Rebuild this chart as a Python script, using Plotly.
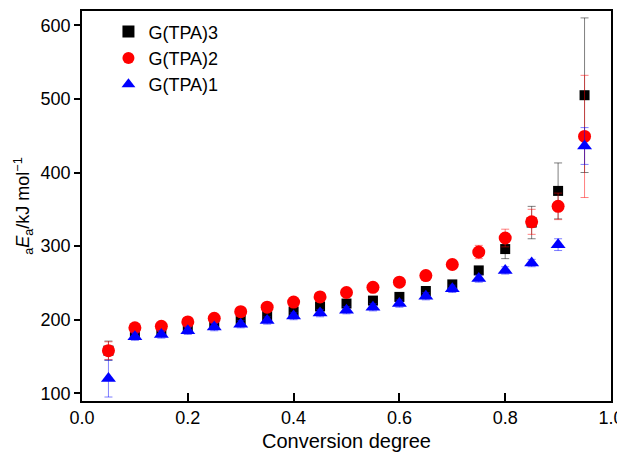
import plotly.graph_objects as go

conversion = [0.05, 0.10, 0.15, 0.20, 0.25, 0.30, 0.35, 0.40, 0.45, 0.50,
              0.55, 0.60, 0.65, 0.70, 0.75, 0.80, 0.85, 0.90, 0.95]

ea_tpa3 = [158, 183, 185, 190, 195, 200, 205, 211, 218, 222,
           226, 231, 239, 248, 267, 296, 332, 375, 505]
err_tpa3 = [13, 4, 4, 4, 4, 4, 4, 4, 4, 4, 4, 4, 4, 5, 5, 13, 22, 38, 105]

ea_tpa2 = [158, 189, 191, 197, 202, 211, 217, 224, 231, 237,
           244, 251, 260, 275, 292, 311, 333, 354, 449]
err_tpa2 = [12, 3, 3, 3, 3, 3, 3, 3, 3, 3, 3, 4, 5, 6, 9, 12, 17, 18, 83]

ea_tpa1 = [120, 177, 180, 185, 190, 194, 199, 205, 209, 213,
           217, 222, 232, 242, 256, 267, 277, 302, 436]
err_tpa1 = [25, 5, 5, 5, 5, 5, 5, 5, 5, 5, 5, 5, 5, 5, 5, 5, 5, 8, 25]

series = [
    ("G(TPA)3", ea_tpa3, err_tpa3, "#000000", "rgba(0,0,0,0.5)", "square", 10),
    ("G(TPA)2", ea_tpa2, err_tpa2, "#ff0000", "rgba(255,0,0,0.5)", "circle", 13),
    ("G(TPA)1", ea_tpa1, err_tpa1, "#0000ff", "rgba(0,0,255,0.5)", "triangle-up", 13),
]

fig = go.Figure()
for name, vals, errs, color, ecolor, sym, size in series:
    fig.add_trace(go.Scatter(
        x=conversion, y=vals, mode="markers", name=name,
        marker=dict(symbol=sym, size=size, color=color, line=dict(width=0)),
        error_y=dict(type="data", array=errs, visible=True,
                     color=ecolor, thickness=1, width=4),
    ))

font_family = "Liberation Sans, Arial, Helvetica, sans-serif"
# page body has an 8px default margin, so the figure is 617x447
fig.update_layout(
    width=617, height=447,
    margin=dict(l=74, r=14, t=3, b=54, autoexpand=False),
    paper_bgcolor="white", plot_bgcolor="white",
    font=dict(family=font_family, size=18, color="black"),
    showlegend=True,
    legend=dict(x=0.05, y=0.994, xanchor="left", yanchor="top",
                bgcolor="rgba(0,0,0,0)", font=dict(size=18),
                itemsizing="constant", tracegroupgap=0),
    xaxis=dict(range=[0, 1], tickvals=[0, 0.2, 0.4, 0.6, 0.8, 1.0],
               ticktext=["0.0", "0.2", "0.4", "0.6", "0.8", "1.0"],
               ticks="inside", ticklen=8, tickwidth=1.5, tickcolor="black",
               showline=True, linecolor="black", linewidth=1.5, mirror=True,
               showgrid=False, zeroline=False, automargin=False,
               tickfont=dict(size=18),
               title=dict(text="Conversion degree", font=dict(size=20), standoff=7)),
    yaxis=dict(range=[89.6, 619.4], tickvals=[100, 200, 300, 400, 500, 600],
               ticks="outside", ticklen=6, tickwidth=1.5, tickcolor="black",
               showline=True, linecolor="black", linewidth=1.5, mirror=True,
               showgrid=False, zeroline=False, automargin=False,
               tickfont=dict(size=18),
               title=dict(text="<sub>a</sub><i>E</i><sub>a</sub>/kJ mol<sup>−1</sup>",
                          font=dict(size=18), standoff=6)),
)

fig.write_html("out.html")
